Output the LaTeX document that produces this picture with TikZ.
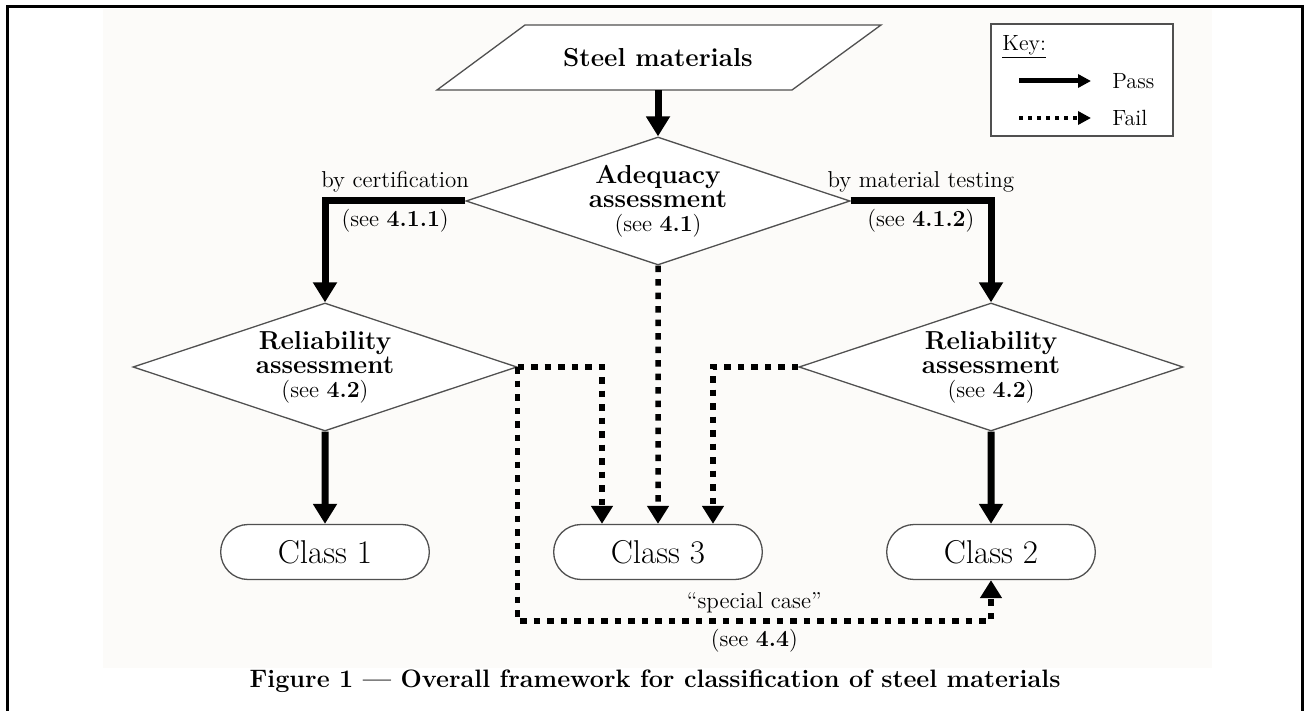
\documentclass[tikz,border=0pt]{standalone}
\usepackage{fontspec}
\usetikzlibrary{arrows.meta}
\usetikzlibrary{shapes.geometric}
\usetikzlibrary{shapes.misc}
\usetikzlibrary{calc}

\definecolor{paper}{RGB}{252,251,249}
\definecolor{edgegray}{RGB}{80,80,80}

\begin{document}
\begin{tikzpicture}[x=0.5pt,y=-0.5pt,
  shapeline/.style={draw=edgegray, line width=0.65pt, fill=white},
  decision/.style={shapeline, diamond, aspect=3, inner sep=0pt, align=center,
    minimum width=192pt, minimum height=64pt,
    font=\fontsize{13}{12}\selectfont\bfseries},
  classbox/.style={shapeline, rounded rectangle, minimum width=111pt,
    minimum height=27.5pt, font=\fontsize{16.5}{18}\selectfont},
  smalltext/.style={font=\fontsize{11.5}{13}\selectfont, inner sep=2.5pt},
  keytext/.style={font=\fontsize{11}{13}\selectfont, inner sep=0pt},
  pass/.style={line width=3.5pt, -{Triangle[length=10pt,width=11.5pt]}},
  fail/.style={line width=2.75pt, dash pattern=on 3.25pt off 3.5pt,
    -{Triangle[length=9pt,width=10.5pt]}},
  keypass/.style={line width=2.5pt, -{Triangle[length=6.5pt,width=6.5pt]}},
  keyfail/.style={line width=2pt, dash pattern=on 2pt off 2.5pt,
    -{Triangle[length=6.5pt,width=6.5pt]}}
]
\useasboundingbox (0,0) rectangle (1306,711);
\fill[paper] (103,9) rectangle (1212,668);
\draw[line width=1.5pt] (7,711) -- (7,7) -- (1302,7) -- (1302,711);

\draw[shapeline] (525,25) -- (881,25) -- (792,90) -- (437,90) -- cycle;
\node[font=\fontsize{13}{15}\selectfont\bfseries, minimum height=32.5pt] (steel) at (658,57.5) {Steel materials};

\node[decision] (adeq) at (658,201) {Adequacy\\assessment\\{\fontsize{11.5}{12}\mdseries\selectfont (see \textbf{4.1})}};
\node[decision] (relcert) at (325,367) {Reliability\\assessment\\{\fontsize{11.5}{12}\mdseries\selectfont (see \textbf{4.2})}};
\node[decision] (reltest) at (991,367) {Reliability\\assessment\\{\fontsize{11.5}{12}\mdseries\selectfont (see \textbf{4.2})}};

\node[classbox] (cls1) at (325,552) {Class 1};
\node[classbox] (cls3) at (658,552) {Class 3};
\node[classbox] (cls2) at (991,552) {Class 2};

\draw[pass] (steel) -- (adeq);
\draw[pass] (adeq.west) -| (relcert.north)
  node[smalltext, pos=0.25, above] (bycert) {by certification}
  node[smalltext, pos=0.25, below] (seecert) {(see \textbf{4.1.1})};
\draw[pass] (adeq.east) -| (reltest.north)
  node[smalltext, pos=0.25, above] (bytest) {by material testing}
  node[smalltext, pos=0.25, below] (seetest) {(see \textbf{4.1.2})};
\draw[fail] (adeq) -- (cls3);
\draw[pass] (relcert) -- (cls1);
\draw[pass] (reltest) -- (cls2);
\draw[fail] (relcert.east) -| ($(cls3.north)+(-56,0)$);
\draw[fail] (reltest.west) -| ($(cls3.north)+(55,0)$);

\coordinate (bend) at (517,621);
\draw[fail] (relcert.east) -- (relcert.east |- bend) -| (cls2.south)
  node[smalltext, pos=0.25, above] (special) {``special case''}
  node[smalltext, pos=0.25, below] (seespecial) {(see \textbf{4.4})};

\node[draw=edgegray, line width=0.65pt, fill=white, minimum width=91pt, minimum height=56pt] (keybox) at (1082,80) {};
\node[keytext, anchor=west] (keyhead) at (1002,47) {\underline{Key:}};
\coordinate (passfrom) at (1019,81);
\coordinate (passto) at (1091,81);
\draw[keypass] (passfrom) -- (passto);
\node[keytext, anchor=west] (passlbl) at (1112,81) {Pass};
\coordinate (failfrom) at (1019,118);
\coordinate (failto) at (1091,118);
\draw[keyfail] (failfrom) -- (failto);
\node[keytext, anchor=west] (faillbl) at (1112,118) {Fail};

\node[font=\fontsize{12.6}{14}\selectfont\bfseries] (caption) at (655,681) {Figure 1 --- Overall framework for classification of steel materials};
\end{tikzpicture}
\end{document}
